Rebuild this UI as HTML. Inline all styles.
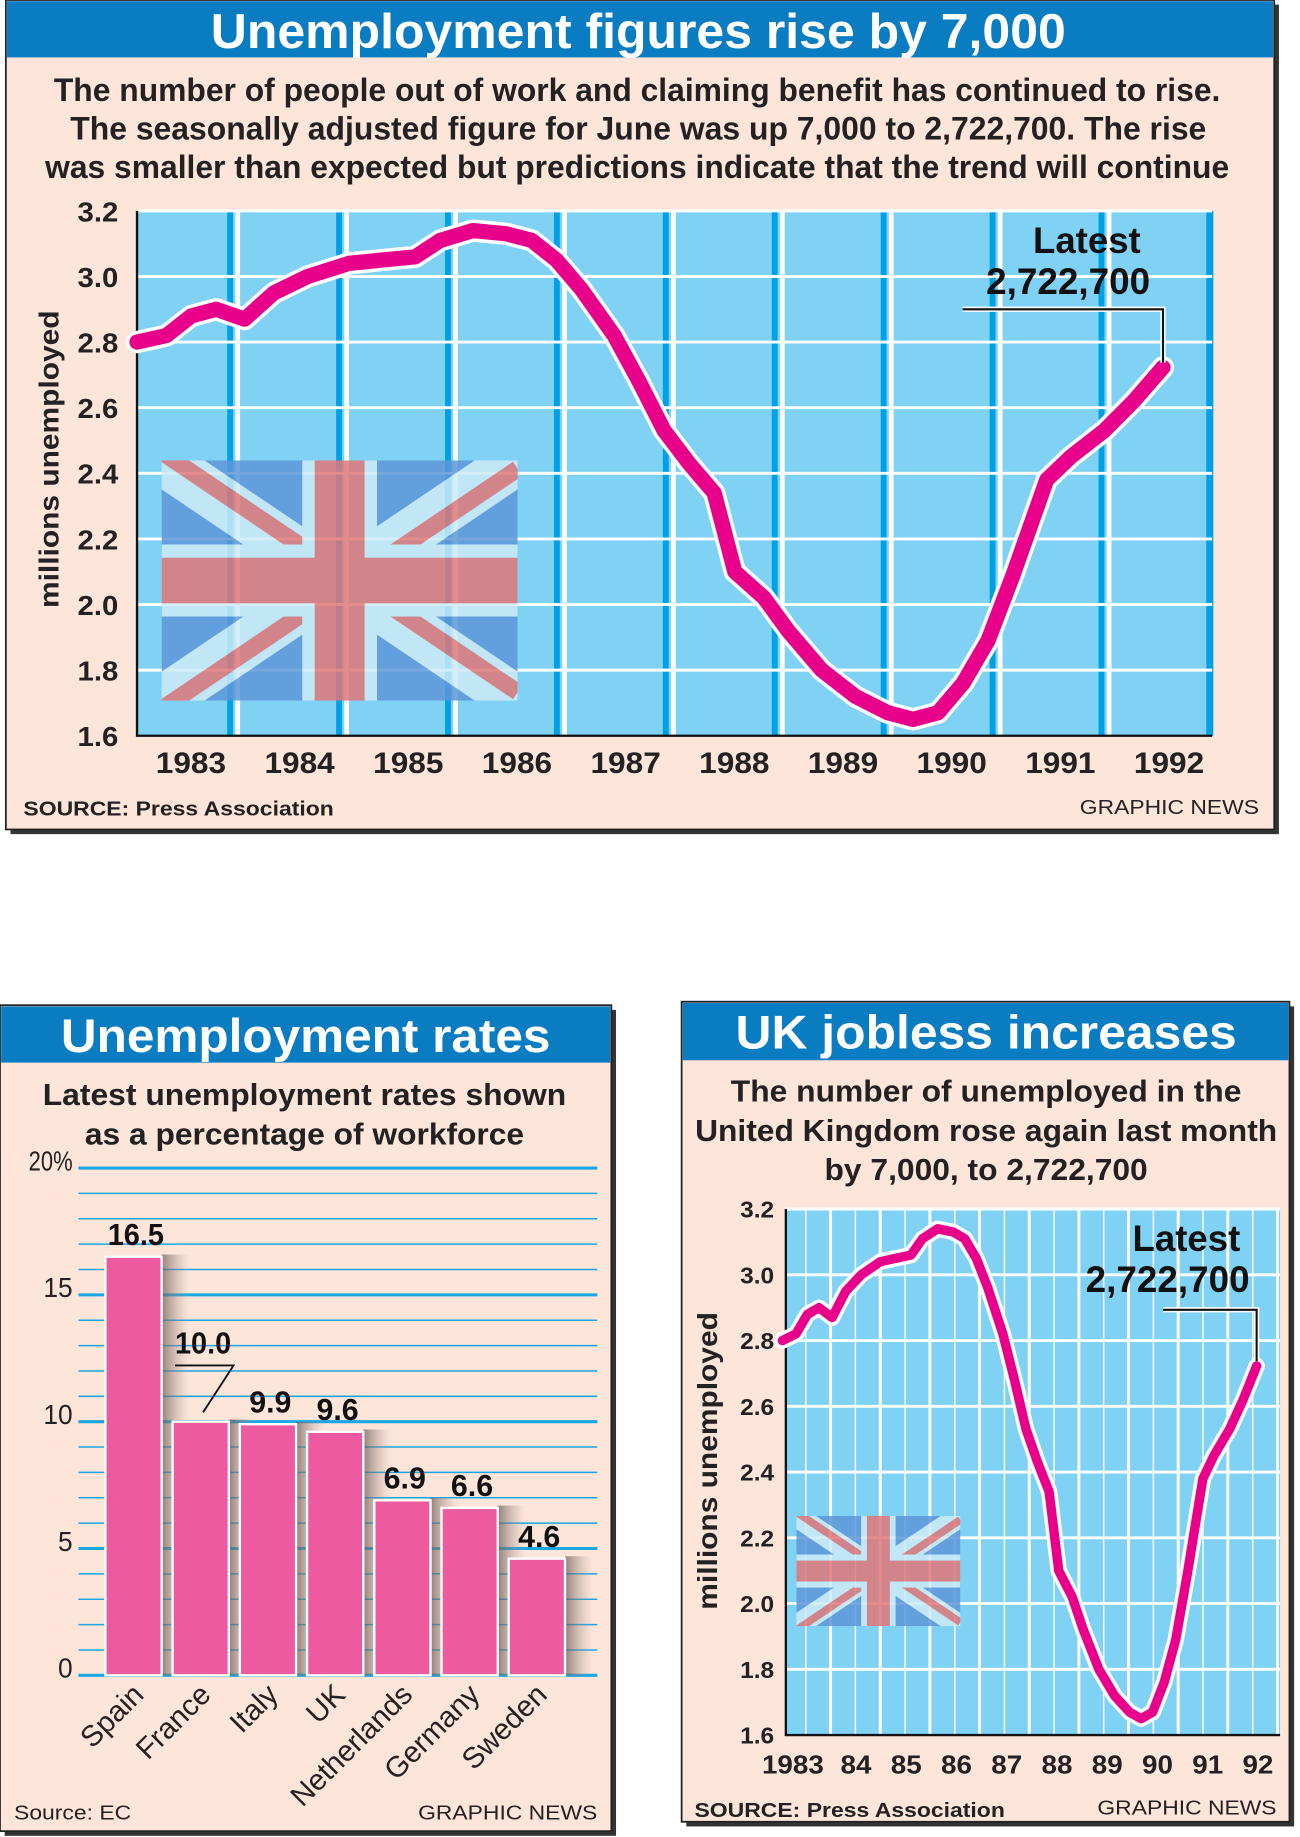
<!DOCTYPE html>
<html><head><meta charset="utf-8"><style>
html,body{margin:0;padding:0;background:#fff;}
svg{display:block;}
text{font-family:"Liberation Sans",Arial,sans-serif;}
.b{font-weight:bold;}
</style></head><body>
<svg id="root" width="1300" height="1837" viewBox="0 0 1110 1568" preserveAspectRatio="none" xmlns="http://www.w3.org/2000/svg">
<defs>
<linearGradient id="shad" x1="0" x2="1" y1="0" y2="0"><stop offset="0" stop-color="#6d5f5a" stop-opacity="0.75"/><stop offset="1" stop-color="#b8a8a0" stop-opacity="0"/></linearGradient>
</defs>
<g>
<rect x="9" y="4" width="1083" height="708" fill="#333"/>
<rect x="5" y="0" width="1083" height="708" fill="#fde5da" stroke="#222" stroke-width="1.5"/>
<rect x="6" y="1" width="1081" height="48" fill="#0a7cc2"/>
<text class="b" x="545" y="41" font-size="42" fill="#fff" text-anchor="middle" textLength="730" lengthAdjust="spacingAndGlyphs">Unemployment figures rise by 7,000</text>
<text class="b" x="544" y="86" font-size="28" fill="#222" text-anchor="middle" textLength="996" lengthAdjust="spacingAndGlyphs">The number of people out of work and claiming benefit has continued to rise.</text>
<text class="b" x="545" y="119" font-size="28" fill="#222" text-anchor="middle" textLength="970" lengthAdjust="spacingAndGlyphs">The seasonally adjusted figure for June was up 7,000 to 2,722,700. The rise</text>
<text class="b" x="544" y="152" font-size="28" fill="#222" text-anchor="middle" textLength="1011" lengthAdjust="spacingAndGlyphs">was smaller than expected but predictions indicate that the trend will continue</text>
<g id="topPlot"></g>
<text class="b" transform="translate(50,392) rotate(-90)" font-size="24" fill="#222" text-anchor="middle" textLength="254" lengthAdjust="spacingAndGlyphs">millions unemployed</text>
<text class="b" x="20" y="696" font-size="17" fill="#222" textLength="265" lengthAdjust="spacingAndGlyphs">SOURCE: Press Association</text>
<text x="1075" y="695" font-size="17" fill="#222" text-anchor="end" textLength="153" lengthAdjust="spacingAndGlyphs">GRAPHIC NEWS</text>
</g>
<g>
<rect x="4" y="862" width="522" height="705" fill="#333"/>
<rect x="0" y="858" width="522" height="705" fill="#fde5da" stroke="#222" stroke-width="1.5"/>
<rect x="1" y="859" width="520" height="48" fill="#0a7cc2"/>
<text class="b" x="261" y="898" font-size="40" fill="#fff" text-anchor="middle" textLength="418" lengthAdjust="spacingAndGlyphs">Unemployment rates</text>
<text class="b" x="260" y="943" font-size="26" fill="#222" text-anchor="middle" textLength="447" lengthAdjust="spacingAndGlyphs">Latest unemployment rates shown</text>
<text class="b" x="260" y="977" font-size="26" fill="#222" text-anchor="middle" textLength="375" lengthAdjust="spacingAndGlyphs">as a percentage of workforce</text>
<g id="barPlot"></g>
<text x="12" y="1553" font-size="17" fill="#222" textLength="100" lengthAdjust="spacingAndGlyphs">Source: EC</text>
<text x="510" y="1553" font-size="17" fill="#222" text-anchor="end" textLength="153" lengthAdjust="spacingAndGlyphs">GRAPHIC NEWS</text>
</g>
<g>
<rect x="586" y="859" width="519" height="700" fill="#333"/>
<rect x="582" y="855" width="519" height="700" fill="#fde5da" stroke="#222" stroke-width="1.5"/>
<rect x="583" y="856" width="517" height="49" fill="#0a7cc2"/>
<text class="b" x="842" y="895" font-size="40" fill="#fff" text-anchor="middle" textLength="428" lengthAdjust="spacingAndGlyphs">UK jobless increases</text>
<text class="b" x="842" y="940" font-size="26" fill="#222" text-anchor="middle" textLength="436" lengthAdjust="spacingAndGlyphs">The number of unemployed in the</text>
<text class="b" x="842" y="974" font-size="26" fill="#222" text-anchor="middle" textLength="497" lengthAdjust="spacingAndGlyphs">United Kingdom rose again last month</text>
<text class="b" x="842" y="1007" font-size="26" fill="#222" text-anchor="middle" textLength="276" lengthAdjust="spacingAndGlyphs">by 7,000, to 2,722,700</text>
<g id="rightPlot"></g>
<text class="b" transform="translate(612,1247) rotate(-90)" font-size="24" fill="#222" text-anchor="middle" textLength="254" lengthAdjust="spacingAndGlyphs">millions unemployed</text>
<text class="b" x="593" y="1551" font-size="17" fill="#222" textLength="265" lengthAdjust="spacingAndGlyphs">SOURCE: Press Association</text>
<text x="1090" y="1549" font-size="17" fill="#222" text-anchor="end" textLength="153" lengthAdjust="spacingAndGlyphs">GRAPHIC NEWS</text>
</g>
</svg>
<script>
const lineYears=[1983.0,1983.27,1983.5,1983.73,1983.99,1984.26,1984.57,1984.95,1985.25,1985.56,1985.79,1986.09,1986.4,1986.63,1986.86,1987.09,1987.39,1987.62,1987.85,1988.08,1988.31,1988.5,1988.77,1988.99,1989.3,1989.61,1989.91,1990.14,1990.37,1990.6,1990.83,1991.06,1991.37,1991.59,1991.9,1992.17,1992.44];
const lineValues=[2.80,2.82,2.88,2.90,2.87,2.95,3.00,3.04,3.05,3.06,3.11,3.14,3.13,3.11,3.05,2.96,2.82,2.68,2.53,2.43,2.34,2.10,2.02,1.92,1.80,1.72,1.67,1.65,1.67,1.76,1.89,2.09,2.38,2.45,2.53,2.62,2.7227];
const yTickValues=[1.6,1.8,2.0,2.2,2.4,2.6,2.8,3.0,3.2];
const yTickLabels=['1.6','1.8','2.0','2.2','2.4','2.6','2.8','3.0','3.2'];
const topYearLabels=['1983','1984','1985','1986','1987','1988','1989','1990','1991','1992'];
const rightYearLabels=['1983','84','85','86','87','88','89','90','91','92'];
const barCategories=['Spain','France','Italy','UK','Netherlands','Germany','Sweden'];
const barValues=[16.5,10.0,9.9,9.6,6.9,6.6,4.6];
const barValueLabels=['16.5','10.0','9.9','9.6','6.9','6.6','4.6'];
const barTickValues=[0,5,10,15,20];
const barTickLabels=['0','5','10','15','20%'];
const latestLabel=['Latest','2,722,700'];

const NS='http://www.w3.org/2000/svg';
function mk(tag,attrs,parent){const e=document.createElementNS(NS,tag);for(const k in attrs)e.setAttribute(k,attrs[k]);parent.appendChild(e);return e;}

function drawFlag(p,x,y,w,h){
  const g=mk('g',{opacity:'0.85'},p);
  
  
  const id='clip'+Math.round(x);
  const cp=mk('clipPath',{id:id},g);mk('rect',{x:x,y:y,width:w,height:h},cp);
  const inner=mk('g',{'clip-path':'url(#'+id+')'},g);
  mk('rect',{x:x,y:y,width:w,height:h,fill:'#5e97d8'},inner);
  const dw=h*0.2;
  mk('line',{x1:x,y1:y,x2:x+w,y2:y+h,stroke:'#cdeaf6','stroke-width':dw},inner);
  mk('line',{x1:x,y1:y+h,x2:x+w,y2:y,stroke:'#cdeaf6','stroke-width':dw},inner);
  const rw=h*0.07,o=h*0.035;
  mk('line',{x1:x,y1:y-o,x2:x+w,y2:y+h-o,stroke:'#e07878','stroke-width':rw},inner);
  mk('line',{x1:x,y1:y+h+o,x2:x+w,y2:y+o,stroke:'#e07878','stroke-width':rw},inner);
  mk('rect',{x:x,y:y+h*0.35,width:w,height:h*0.3,fill:'#cdeaf6'},inner);
  mk('rect',{x:x+w*0.395,y:y,width:w*0.21,height:h,fill:'#cdeaf6'},inner);
  mk('rect',{x:x,y:y+h*0.405,width:w,height:h*0.19,fill:'#e07878'},inner);
  mk('rect',{x:x+w*0.43,y:y,width:w*0.14,height:h,fill:'#e07878'},inner);
}

function drawLineChart(p,cfg){
  const X=t=>cfg.x0+(t-1983)*cfg.xs;
  const Y=v=>cfg.top+(3.2-v)/1.6*(cfg.bottom-cfg.top);
  const bg=mk('rect',{x:cfg.left,y:cfg.top,width:cfg.right-cfg.left,height:cfg.bottom-cfg.top,fill:'#80d2f5'},p);
  
  
  cfg.vlines(p);
  yTickValues.forEach((v,i)=>{
    if(i>0){const l=mk('line',{x1:cfg.left,x2:cfg.right,y1:Y(v),y2:Y(v),stroke:'#fff','stroke-width':2.5},p);
    
    }
    const t=mk('text',{x:cfg.left-cfg.lblGap,y:Y(v)+cfg.ys/2.7,'font-size':cfg.ys,'font-weight':'bold',fill:'#222','text-anchor':'end',textLength:cfg.ys*1.45,lengthAdjust:'spacingAndGlyphs'},p);
    t.textContent=yTickLabels[i];
    
    
  });
  drawFlag(p,cfg.flag[0],cfg.flag[1],cfg.flag[2],cfg.flag[3]);
  const ax=mk('path',{d:`M${cfg.left},${cfg.top}V${cfg.bottom}H${cfg.right}`,fill:'none',stroke:'#111','stroke-width':2},p);
  
  
  const d=lineYears.map((t,i)=>(i?'L':'M')+X(t).toFixed(1)+','+Y(lineValues[i]).toFixed(1)).join('');
  const halo=mk('path',{d:d,fill:'none',stroke:'#fff','stroke-width':cfg.lw+6,'stroke-linejoin':'round','stroke-linecap':'round'},p);
  
  
  const ln=mk('path',{d:d,fill:'none',stroke:'#e8008a','stroke-width':cfg.lw,'stroke-linejoin':'round','stroke-linecap':'round'},p);
  
  
  const n=lineYears.length-1, ex=X(lineYears[n]), ey=Y(lineValues[n]);
  const lp=`M${cfg.lead[0]},${cfg.lead[1]}H${ex}V${ey-4}`;
  mk('path',{d:lp,fill:'none',stroke:'#fff','stroke-width':4.5},p);
  const ld=mk('path',{d:lp,fill:'none',stroke:'#111','stroke-width':1.8},p);
  
  
  latestLabel.forEach((s,i)=>{
    const t=mk('text',{x:cfg.lab[i][0],y:cfg.lab[i][1],'font-size':cfg.labSize,'font-weight':'bold',fill:'#111','text-anchor':'middle',textLength:cfg.lab[i][2],lengthAdjust:'spacingAndGlyphs'},p);
    t.textContent=s;
    
    
  });
  cfg.xLabels.forEach((s,i)=>{
    const off=(i===0&&cfg.xlOff0!==undefined)?cfg.xlOff0:cfg.xlOff;
    const t=mk('text',{x:X(1983+i)+off,y:cfg.xlY,'font-size':cfg.xlSize,'font-weight':'bold',fill:'#222','text-anchor':'middle',textLength:cfg.xlSize*(s.length*0.6),lengthAdjust:'spacingAndGlyphs'},p);
    t.textContent=s;
    
    
  });
}

drawLineChart(document.getElementById('topPlot'),{
  left:117,right:1035,top:180,bottom:628,x0:117,xs:92.8,ys:24,lblGap:16,lw:13,
  flag:[138,393,304,205],lead:[822,264],lab:[[928,216,92],[912,251,140]],labSize:32,
  xLabels:topYearLabels,xlOff:46,xlY:660,xlSize:25,
  vlines:p=>{for(let k=0;k<10;k++){const x=197+93*k;if(x>1036)break;
    const a=mk('rect',{x:x-3,y:180,width:5,height:448,fill:'#00a0e4'},p);
    
    
    if(x<1025)mk('rect',{x:x+4,y:180,width:4,height:448,fill:'#fff'},p);}
    mk('rect',{x:1030,y:180,width:5,height:448,fill:'#00a0e4'},p);}
});
drawLineChart(document.getElementById('rightPlot'),{
  left:671,right:1093,top:1032,bottom:1481,x0:668,xs:42.9,ys:20,lblGap:10,lw:8,
  flag:[680,1294,140,94],lead:[993,1118],lab:[[1013,1068,92],[997,1103,140]],labSize:32,
  xLabels:rightYearLabels,xlOff:20,xlOff0:9,xlY:1514,xlSize:22,
  vlines:p=>{for(let x=688;x<1092;x+=21.2){const w=(Math.round((x-688)/21.2)%2)?2.5:1.2;
    const a=mk('line',{x1:x,x2:x,y1:1032,y2:1481,stroke:'#fff','stroke-width':w},p);
    
    }}
});

(function(){
  const p=document.getElementById('barPlot');
  const Y=v=>1430-v*21.65;
  for(let v=0;v<=20;v++){
    const major=v%5===0;
    const l=mk('line',{x1:67,x2:510,y1:Y(v),y2:Y(v),stroke:'#1aa6e2','stroke-width':major?2.6:1.3},p);
    
    
  }
  barTickValues.forEach((v,i)=>{
    const s=barTickLabels[i];
    const t=mk('text',{x:62,y:Y(v)+2,'font-size':24,fill:'#222','text-anchor':'end',textLength:s.length*12.5,lengthAdjust:'spacingAndGlyphs'},p);
    t.textContent=s;
    
    
  });
  barValues.forEach((v,i)=>{
    const x=90+i*57.4, w=48, top=Y(v);
    const sh=mk('rect',{x:x+w,y:top-2,width:24,height:1430-top+2,fill:'url(#shad)'},p);
    
    
  });
  barValues.forEach((v,i)=>{
    const x=90+i*57.4, w=48, top=Y(v);
    const r=mk('rect',{x:x,y:top,width:w,height:1430-top,fill:'#ee5aa0',stroke:'#fff','stroke-width':2},p);
    
    
    let ly=top-10;
    if(i===1){ly=top-58;
      const ld=mk('path',{d:`M${x+2},${top-48}H${x+52}L${x+26},${top-8}`,fill:'none',stroke:'#111','stroke-width':1.6},p);
      
      }
    const t=mk('text',{x:x+w/2+2,y:ly,'font-size':26,'font-weight':'bold',fill:'#111','text-anchor':'middle',textLength:barValueLabels[i].length*12,lengthAdjust:'spacingAndGlyphs'},p);
    t.textContent=barValueLabels[i];
    
    
    const c=mk('text',{transform:`translate(${x+w/2+10},${1448}) rotate(-45)`,'font-size':25,fill:'#222','text-anchor':'end'},p);
    c.textContent=barCategories[i];
    
    
  });
})();
</script>
</body></html>
